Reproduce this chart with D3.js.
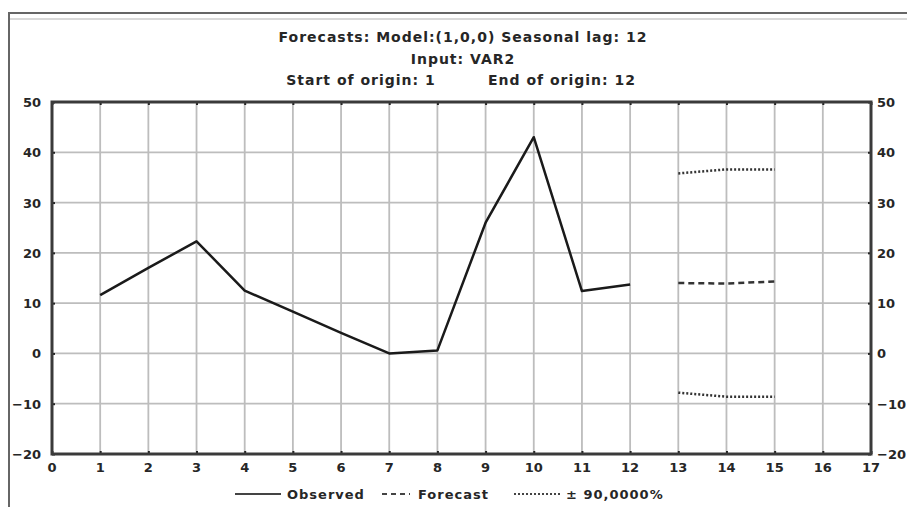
<!DOCTYPE html>
<html lang="en">
<head>
  <meta charset="UTF-8">
  <script src="https://d3js.org/d3.v7.min.js"></script>
  <style>
    body { margin: 0; background: #fff; }
    text { font-family: "DejaVu Sans", "Liberation Sans", sans-serif; font-weight: bold; fill: #262626; }
  </style>
</head>
<body>
  <script>
    const w = 907, h = 507;
    const margin = { top: 102, right: 36, bottom: 53, left: 52 };

    // chart data
    const obsX = [1, 2, 3, 4, 5, 6, 7, 8, 9, 10, 11, 12];
    const observed = [11.6, 17, 22.3, 12.5, 8.3, 4.1, 0, 0.6, 26, 43, 12.4, 13.7];
    const fcX = [13, 14, 15];
    const forecast = [14.0, 13.9, 14.3];
    const upper = [35.8, 36.6, 36.6];
    const lower = [-7.8, -8.6, -8.6];
    const xTicks = d3.range(0, 18);
    const yTicks = [-20, -10, 0, 10, 20, 30, 40, 50];
    const titleLines = ["Forecasts: Model:(1,0,0) Seasonal lag: 12", "Input: VAR2"];
    const originLabels = ["Start of origin: 1", "End of origin: 12"];
    const legendItems = [
      { label: "Observed", dash: null },
      { label: "Forecast", dash: "5,4" },
      { label: "\u00b1 90,0000%", dash: "2,2" }
    ];

    const svg = d3.select("body").append("svg")
      .attr("width", w)
      .attr("height", h);

    // outer frame
    svg.append("rect").attr("x", 9).attr("y", 13).attr("width", w).attr("height", h)
      .attr("fill", "none").attr("stroke", "#666").attr("stroke-width", 2);
    svg.append("line").attr("x1", 10).attr("x2", w).attr("y1", 19).attr("y2", 19)
      .attr("stroke", "#ccc").attr("stroke-width", 1.5);

    const x = d3.scaleLinear().domain([0, 17]).range([margin.left, w - margin.right]);
    const y = d3.scaleLinear().domain([-20, 50]).range([h - margin.bottom, margin.top]);

    // grid
    svg.append("g").selectAll("line").data(xTicks.slice(1, -1)).enter().append("line")
      .attr("x1", d => x(d)).attr("x2", d => x(d))
      .attr("y1", y(50)).attr("y2", y(-20))
      .attr("stroke", "#bdbdbd").attr("stroke-width", 1.8);
    svg.append("g").selectAll("line").data(yTicks.slice(1, -1)).enter().append("line")
      .attr("x1", x(0)).attr("x2", x(17))
      .attr("y1", d => y(d)).attr("y2", d => y(d))
      .attr("stroke", "#bdbdbd").attr("stroke-width", 1.8);

    // axes (ticks only, labels drawn separately)
    const fmt = d3.format("d");
    svg.append("g").attr("transform", `translate(0,${y(-20)})`)
      .call(d3.axisTop(x).tickValues(xTicks).tickSize(3).tickFormat(""))
      .call(g => g.select(".domain").remove())
      .selectAll("line").attr("stroke", "#222").attr("stroke-width", 2);
    svg.append("g").attr("transform", `translate(0,${y(50)})`)
      .call(d3.axisBottom(x).tickValues(xTicks).tickSize(3).tickFormat(""))
      .call(g => g.select(".domain").remove())
      .selectAll("line").attr("stroke", "#222").attr("stroke-width", 2);
    svg.append("g").attr("transform", `translate(${x(0)},0)`)
      .call(d3.axisRight(y).tickValues(yTicks).tickSize(3).tickFormat(""))
      .call(g => g.select(".domain").remove())
      .selectAll("line").attr("stroke", "#222").attr("stroke-width", 2);
    svg.append("g").attr("transform", `translate(${x(17)},0)`)
      .call(d3.axisLeft(y).tickValues(yTicks).tickSize(3).tickFormat(""))
      .call(g => g.select(".domain").remove())
      .selectAll("line").attr("stroke", "#222").attr("stroke-width", 2);

    svg.append("rect")
      .attr("x", x(0)).attr("y", y(50))
      .attr("width", x(17) - x(0)).attr("height", y(-20) - y(50))
      .attr("fill", "none").attr("stroke", "#3a3a3a").attr("stroke-width", 3);

    // tick labels
    svg.append("g").selectAll("text").data(xTicks).enter().append("text")
      .attr("x", d => x(d)).attr("y", y(-20) + 18)
      .attr("text-anchor", "middle").style("font-size", "13px").text(fmt);
    svg.append("g").selectAll("text").data(yTicks).enter().append("text")
      .attr("x", x(0) - 11).attr("y", d => y(d) + 5)
      .attr("text-anchor", "end").style("font-size", "13px").text(fmt);
    svg.append("g").selectAll("text").data(yTicks).enter().append("text")
      .attr("x", x(17) + 6).attr("y", d => y(d) + 5)
      .attr("text-anchor", "start").style("font-size", "13px").text(fmt);

    // series
    const line = d3.line().x(d => x(d[0])).y(d => y(d[1]));
    svg.append("path").datum(d3.zip(obsX, observed))
      .attr("d", line).attr("fill", "none")
      .attr("stroke", "#1a1a1a").attr("stroke-width", 2.5).attr("stroke-linejoin", "round");
    svg.append("path").datum(d3.zip(fcX, forecast))
      .attr("d", line).attr("fill", "none")
      .attr("stroke", "#333").attr("stroke-width", 2.5).attr("stroke-dasharray", "6,4");
    [upper, lower].forEach(s => {
      svg.append("path").datum(d3.zip(fcX, s))
        .attr("d", line).attr("fill", "none")
        .attr("stroke", "#333").attr("stroke-width", 2.5).attr("stroke-dasharray", "2,2");
    });

    // titles
    svg.append("g").selectAll("text").data(titleLines).enter().append("text")
      .attr("x", 463).attr("y", (d, i) => 42 + i * 22)
      .attr("text-anchor", "middle").style("font-size", "14px")
      .style("letter-spacing", "1px").text(d => d);
    svg.append("g").selectAll("text").data(originLabels).enter().append("text")
      .attr("x", (d, i) => i === 0 ? 361 : 562).attr("y", 85)
      .attr("text-anchor", "middle").style("font-size", "14px")
      .style("letter-spacing", "1px").text(d => d);

    // legend
    const legX = [235, 382, 514];
    const leg = svg.append("g").selectAll("g").data(legendItems).enter().append("g")
      .attr("transform", (d, i) => `translate(${legX[i]},494)`);
    leg.append("line").attr("x1", 0).attr("x2", (d, i) => i === 1 ? 28 : 46)
      .attr("y1", 0).attr("y2", 0)
      .attr("stroke", "#444").attr("stroke-width", 2)
      .attr("stroke-dasharray", d => d.dash);
    leg.append("text").attr("x", (d, i) => i === 1 ? 36 : 52).attr("y", 5)
      .style("font-size", "13px").style("letter-spacing", "1px").text(d => d.label);
  </script>
</body>
</html>
